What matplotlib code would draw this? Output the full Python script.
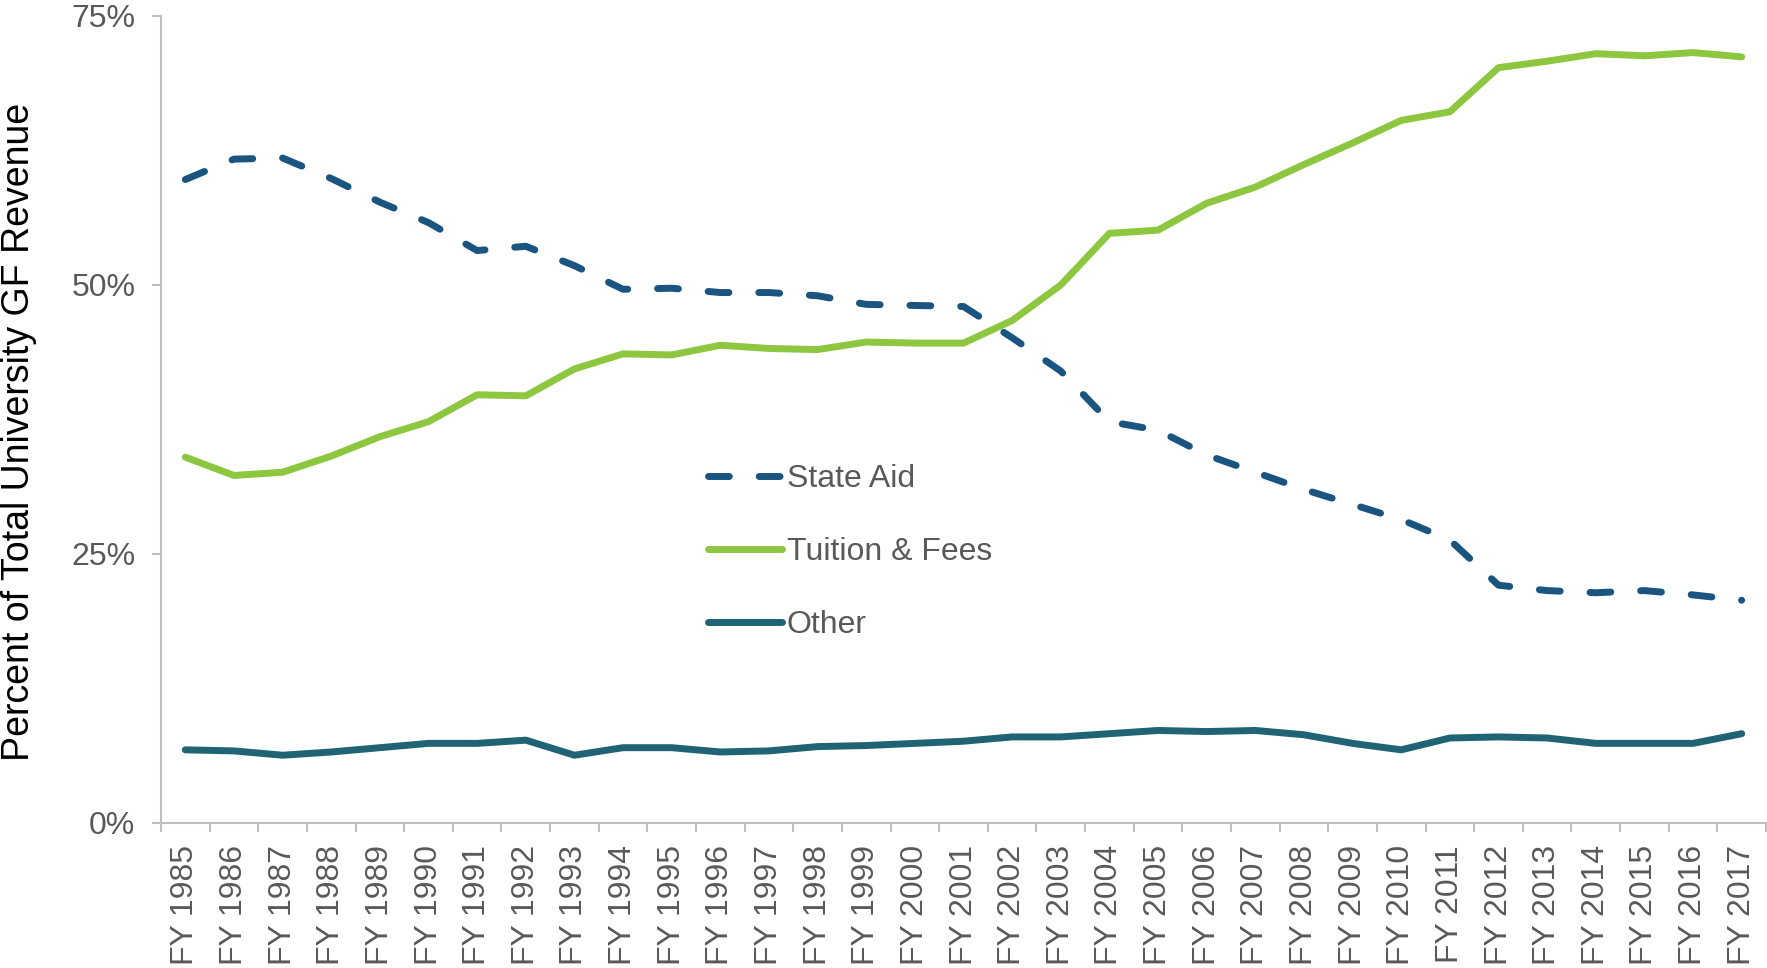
import matplotlib
matplotlib.use("Agg")
import matplotlib.pyplot as plt
import numpy as np
from matplotlib.ticker import FixedLocator, PercentFormatter

anos = [f"FY {a}" for a in range(1985, 2018)]

state_aid = [59.8, 61.7, 61.8, 59.9, 57.7, 55.8, 53.2, 53.6, 51.8, 49.6, 49.7,
             49.3, 49.3, 49.0, 48.2, 48.1, 48.0, 45.1, 42.0, 37.3, 36.5, 34.2,
             32.6, 31.0, 29.6, 28.2, 26.3, 22.1, 21.6, 21.4, 21.6, 21.2, 20.7]
tuition = [34.0, 32.3, 32.6, 34.1, 35.9, 37.3, 39.8, 39.7, 42.2, 43.6, 43.5,
           44.4, 44.1, 44.0, 44.7, 44.6, 44.6, 46.7, 50.0, 54.8, 55.1, 57.6,
           59.1, 61.2, 63.2, 65.3, 66.1, 70.2, 70.8, 71.5, 71.3, 71.6, 71.2]
other = [6.8, 6.7, 6.3, 6.6, 7.0, 7.4, 7.4, 7.7, 6.3, 7.0, 7.0,
         6.6, 6.7, 7.1, 7.2, 7.4, 7.6, 8.0, 8.0, 8.3, 8.6, 8.5,
         8.6, 8.2, 7.4, 6.8, 7.9, 8.0, 7.9, 7.4, 7.4, 7.4, 8.3]

plt.rcParams['font.family'] = ['Liberation Sans', 'DejaVu Sans']

CINZA = "#595959"
EIXO = "#bfbfbf"

fig = plt.figure(figsize=(17.67, 9.68), dpi=100)
ax = fig.add_axes([161/1767, 1 - 823/968, 1605/1767, 807/968])

x = np.arange(len(anos))
ax.plot(x, state_aid, color="#1a5481", lw=5, dashes=(3, 4.3),
        dash_capstyle="round", solid_capstyle="round", label="State Aid")
ax.plot(x, tuition, color="#8dc63f", lw=5, solid_capstyle="round",
        solid_joinstyle="round", label="Tuition & Fees")
ax.plot(x, other, color="#1f6374", lw=5, solid_capstyle="round",
        solid_joinstyle="round", label="Other")

ax.set_xlim(-0.5, len(anos) - 0.5)
ax.set_ylim(0, 75)
ax.set_yticks([0, 25, 50, 75])
ax.yaxis.set_major_formatter(PercentFormatter(decimals=0))
ax.set_xticks(x)
ax.set_xticklabels(anos, rotation=90)
ax.xaxis.set_minor_locator(FixedLocator(np.arange(-0.5, len(anos), 1.0)))

for s in ["top", "right"]:
    ax.spines[s].set_visible(False)
for s in ["left", "bottom"]:
    ax.spines[s].set_color(EIXO)
    ax.spines[s].set_linewidth(1.5)

ax.tick_params(axis="y", length=6.5, width=1.5, color=EIXO, labelcolor=CINZA,
               labelsize=23, pad=12)
ax.tick_params(axis="x", which="major", length=0, labelcolor=CINZA,
               labelsize=23, pad=16)
ax.tick_params(axis="x", which="minor", length=6.5, width=1.5, color=EIXO)

ax.set_ylabel("Percent of Total University GF Revenue", fontsize=27,
              color="black", va="center")
ax.yaxis.set_label_coords(-0.0885, 0.4845)

leg = ax.legend(loc="center left", bbox_to_anchor=(0.341, 0.336), frameon=False,
                fontsize=23, handlelength=2.3, handletextpad=0.15,
                labelspacing=1.35, borderpad=0, borderaxespad=0)
for t in leg.get_texts():
    t.set_color(CINZA)

fig.savefig("out.png", dpi=100)
